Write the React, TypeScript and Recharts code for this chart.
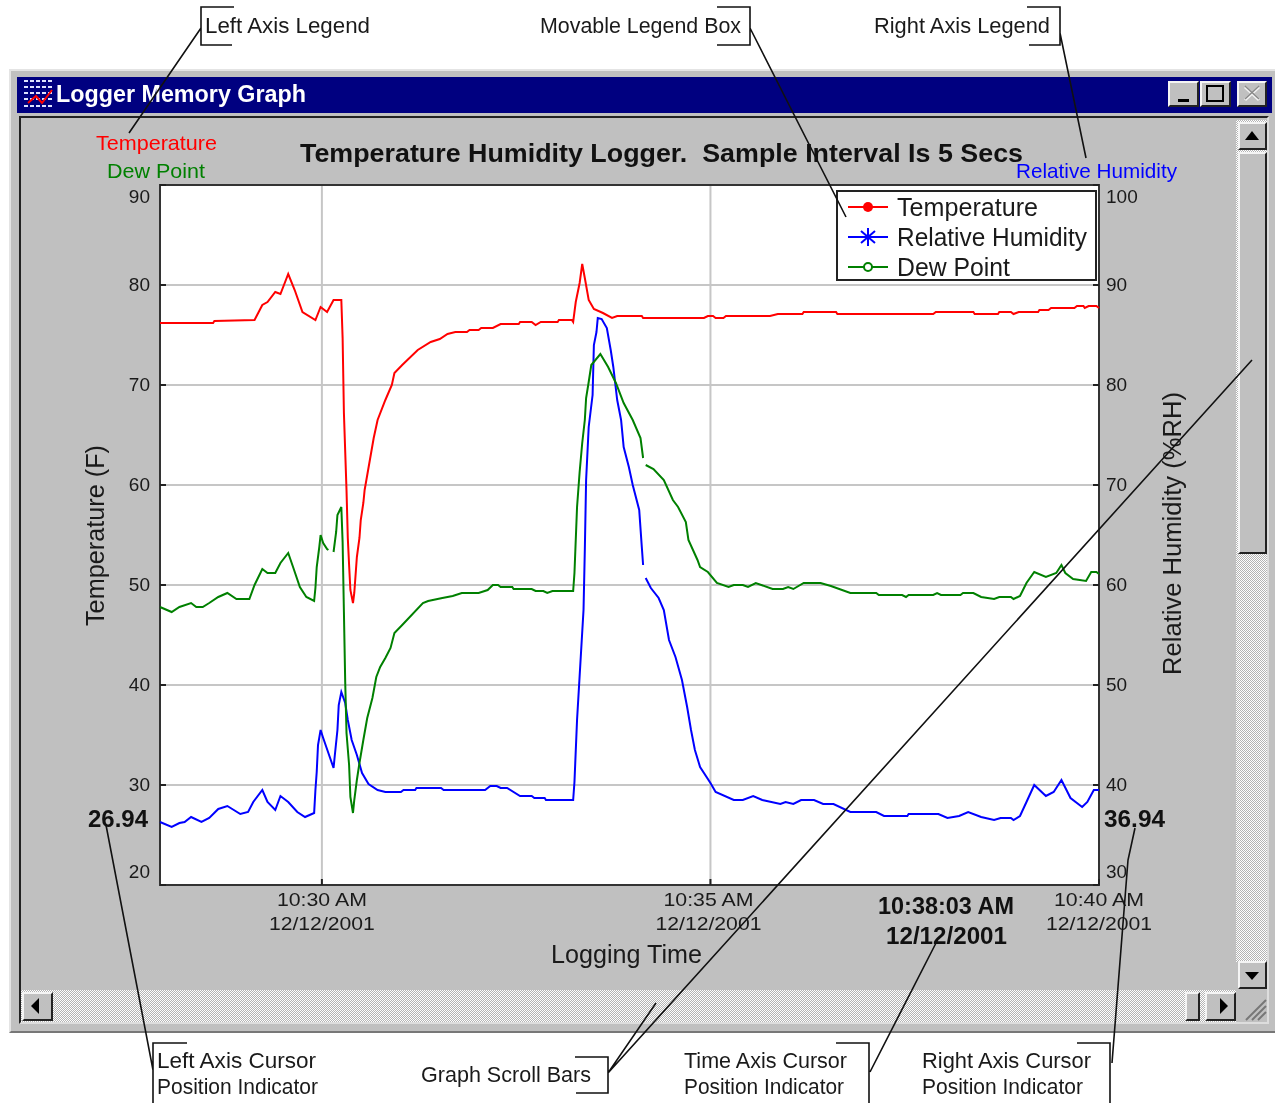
import React from 'react';
import { LineChart, Line, XAxis, YAxis, CartesianGrid, ReferenceArea, Legend } from 'recharts';

// times are seconds after 10:30:00 AM, one list per series because the breaks differ
const tempTimes = [-125, -84, -83, -52, -46, -42, -36, -32, -26, -21, -15, -5, -1, 4, 9, 15, 16, 17, 19, 20, 21, 22, 24, 25, 26, 27, 29, 30, 32, 33, 40, 43, 49, 54, 56, 62, 74, 84, 91, 97, 103, 112, 114, 121, 123, 132, 138, 152, 153, 162, 165, 169, 182, 183, 193, 194, 196, 199, 201, 203, 206, 210, 217, 224, 228, 247, 248, 295, 298, 302, 304, 310, 312, 346, 352, 371, 372, 397, 398, 472, 474, 503, 504, 522, 523, 532, 534, 538, 553, 554, 561, 563, 581, 583, 588, 589, 592, 598, 600];
const tempValues = [76.2, 76.2, 76.4, 76.5, 78.0, 78.3, 79.3, 79.1, 81.1, 79.5, 77.3, 76.5, 77.8, 77.3, 78.5, 78.5, 74.7, 67.2, 59.5, 54.7, 52.0, 49.5, 48.2, 49.2, 51.0, 52.8, 54.7, 56.5, 58.2, 59.5, 64.7, 66.5, 68.5, 70.0, 71.2, 72.0, 73.5, 74.3, 74.6, 75.1, 75.3, 75.3, 75.5, 75.5, 75.7, 75.7, 76.1, 76.1, 76.3, 76.3, 76.0, 76.3, 76.3, 76.5, 76.5, 76.3, 78.3, 80.2, 82.1, 80.7, 78.5, 77.6, 77.2, 76.7, 76.9, 76.9, 76.7, 76.7, 76.9, 76.9, 76.7, 76.7, 76.9, 76.9, 77.1, 77.1, 77.3, 77.3, 77.1, 77.1, 77.3, 77.3, 77.1, 77.1, 77.3, 77.3, 77.1, 77.3, 77.3, 77.5, 77.5, 77.7, 77.7, 77.9, 77.9, 77.7, 77.9, 77.9, 77.7];

const dewTimes = [-125, -116, -110, -101, -97, -92, -87, -80, -73, -66, -56, -52, -46, -42, -36, -32, -26, -22, -17, -12, -6, -5, -4, -2, -1, 1, 4, 5, 7, 9, 11, 12, 15, 16, 17, 18, 19, 21, 22, 24, 25, 27, 29, 32, 35, 39, 42, 45, 49, 53, 56, 62, 78, 82, 93, 101, 108, 121, 128, 132, 136, 138, 147, 148, 162, 165, 171, 174, 178, 194, 195, 196, 197, 199, 201, 203, 204, 206, 208, 215, 221, 227, 233, 240, 246, 248, 249, 250, 256, 264, 271, 275, 281, 283, 290, 292, 298, 305, 314, 318, 325, 329, 335, 348, 356, 360, 364, 372, 385, 393, 408, 428, 430, 448, 451, 453, 472, 475, 478, 493, 495, 503, 509, 519, 523, 532, 534, 539, 544, 550, 559, 567, 571, 574, 580, 590, 594, 598, 600];
const dewValues = [47.8, 47.3, 47.8, 48.2, 47.8, 47.8, 48.2, 48.8, 49.2, 48.6, 48.6, 50.0, 51.6, 51.2, 51.2, 52.2, 53.2, 51.7, 49.8, 48.8, 48.4, 49.7, 51.8, 53.8, 55.0, 54.2, 53.6, 53.5, null, 53.3, 55.3, 57.0, 57.8, 54.3, 47.3, 40.3, 35.2, 32.0, 28.8, 27.2, 28.5, 30.5, 32.2, 34.5, 36.7, 38.7, 40.8, 41.8, 42.7, 43.7, 45.2, 46.0, 48.2, 48.4, 48.7, 48.9, 49.2, 49.2, 49.5, 50.0, 50.0, 49.8, 49.8, 49.6, 49.6, 49.4, 49.4, 49.2, 49.4, 49.4, 51.2, 54.5, 57.8, 61.3, 64.2, 66.5, 68.7, 70.3, 72.0, 73.1, 71.8, 70.2, 68.2, 66.5, 64.7, 62.7, null, 62.0, 61.6, 60.5, 58.5, 57.8, 56.3, 54.5, 52.5, 51.8, 51.3, 50.2, 49.8, 50.0, 50.0, 49.8, 50.2, 49.6, 49.6, 49.8, 49.6, 50.2, 50.2, 49.9, 49.2, 49.2, 49.0, 49.0, 48.8, 49.0, 49.0, 49.2, 49.0, 49.0, 49.2, 49.2, 48.8, 48.6, 48.8, 48.8, 48.6, 48.9, 50.2, 51.3, 50.8, 51.2, 52.0, 51.2, 50.6, 50.4, 51.3, 51.3, 51.1];

const rhTimes = [-125, -116, -110, -106, -101, -93, -87, -80, -73, -63, -57, -53, -46, -42, -36, -32, -26, -19, -13, -6, -5, -4, -3, -1, 1, 5, 9, 10, 12, 13, 15, 18, 20, 23, 27, 31, 36, 43, 49, 61, 63, 72, 73, 92, 94, 126, 130, 135, 138, 143, 153, 162, 164, 172, 173, 194, 195, 197, 202, 203, 204, 206, 209, 210, 212, 213, 216, 220, 223, 225, 228, 231, 233, 237, 240, 245, 247, 248, 249, 250, 254, 260, 264, 268, 273, 278, 282, 285, 288, 292, 300, 304, 318, 325, 333, 340, 354, 358, 364, 370, 380, 387, 395, 408, 428, 434, 452, 453, 476, 483, 492, 499, 509, 519, 524, 532, 534, 539, 544, 550, 559, 565, 571, 578, 587, 591, 596, 600];
const rhValues = [36.3, 35.8, 36.2, 36.3, 36.8, 36.3, 36.7, 37.6, 37.9, 37.1, 37.3, 38.3, 39.5, 38.3, 37.5, 38.9, 38.3, 37.3, 36.8, 37.2, 39.5, 41.3, 44.0, 45.5, 44.7, 43.2, 41.7, 43.0, 45.5, 48.0, 49.3, 48.2, 46.5, 44.5, 43.0, 41.2, 40.1, 39.5, 39.3, 39.3, 39.5, 39.5, 39.7, 39.7, 39.5, 39.5, 39.9, 39.9, 39.7, 39.7, 38.9, 38.9, 38.7, 38.7, 38.5, 38.5, 40.3, 46.5, 57.5, 63.5, 70.5, 75.8, 79.0, 84.0, 85.3, 86.7, 86.6, 85.7, 83.5, 81.8, 78.5, 76.5, 73.8, 71.8, 70.0, 67.5, 63.8, 62.0, null, 60.7, 59.7, 58.7, 57.5, 54.5, 52.8, 50.5, 47.8, 45.5, 43.5, 41.8, 40.2, 39.3, 38.5, 38.5, 38.9, 38.5, 38.1, 38.3, 38.1, 38.5, 38.5, 38.1, 38.1, 37.3, 37.3, 36.9, 36.9, 37.1, 37.1, 36.7, 36.9, 37.3, 36.8, 36.5, 36.7, 36.7, 36.5, 36.9, 38.3, 40.0, 38.9, 39.3, 40.5, 38.7, 37.8, 38.3, 39.5, 39.5];

const xTicks = [0, 300, 600];
const xTickLabels = ['10:30 AM', '10:35 AM', '10:40 AM'];
const leftTicks = [20, 30, 40, 50, 60, 70, 80, 90];
const rightTicks = [30, 40, 50, 60, 70, 80, 90, 100];

const FONT = '"Liberation Sans", Arial, sans-serif';
const RED = '#ff0000';
const BLUE = '#0000ff';
const GREEN = '#008000';
const SILVER = '#c0c0c0';

const toRows = (times: number[], values: (number | null)[]) =>
  times.map((t, i) => ({ t, value: values[i] }));

// text squeezed to the width measured on the reference
const Txt = ({ x, y, w, size = 22, fill = '#1a1a1a', bold = false, rotate = false, children }: any) => (
  <text
    x={x}
    y={y}
    fontFamily={FONT}
    fontSize={size}
    fontWeight={bold ? 'bold' : 'normal'}
    fill={fill}
    textLength={w}
    lengthAdjust="spacingAndGlyphs"
    transform={rotate ? `rotate(-90 ${x} ${y})` : undefined}
  >
    {children}
  </text>
);

const XTick = ({ x, payload }: any) => {
  const label = xTickLabels[xTicks.indexOf(payload.value)];
  // the middle label sits a little left of its gridline on the reference
  const cx = payload.value === 300 ? x - 2 : x;
  return (
    <g>
      <Txt x={cx - 45} y={906} w={90} size={19}>{label}</Txt>
      <Txt x={cx - 53} y={930} w={106} size={19}>12/12/2001</Txt>
    </g>
  );
};

// first and last labels sit inside the plot height, as on the reference
const nudge = (i: number, n: number) => (i === 0 ? -13 : i === n - 1 ? 12 : 0);

const LeftTick = ({ y, index, payload }: any) => (
  <text x={150} y={y + nudge(index, leftTicks.length) + 6} textAnchor="end" fontFamily={FONT} fontSize={19} fill="#1a1a1a">
    {payload.value}
  </text>
);

const RightTick = ({ y, index, payload }: any) => (
  <text x={1106} y={y + nudge(index, rightTicks.length) + 6} fontFamily={FONT} fontSize={19} fill="#1a1a1a">
    {payload.value}
  </text>
);

const legendWidths: Record<string, number> = { Temperature: 141, 'Relative Humidity': 190, 'Dew Point': 113 };

const LegendBox = ({ payload }: any) => (
  <svg width={262} height={92} style={{ display: 'block' }}>
    <rect x={1} y={1} width={259} height={89} fill="#fff" stroke="#222" strokeWidth={2} />
    {(payload || []).map((item: any, i: number) => {
      const cy = 17 + i * 30;
      return (
        <g key={item.value}>
          <line x1={12} x2={52} y1={cy} y2={cy} stroke={item.color} strokeWidth={2} />
          {item.value === 'Temperature' && <circle cx={32} cy={cy} r={5} fill={item.color} />}
          {item.value === 'Relative Humidity' && (
            <path
              d={`M32 ${cy - 9}V${cy + 9}M25 ${cy - 6}L39 ${cy + 6}M25 ${cy + 6}L39 ${cy - 6}`}
              stroke={item.color}
              strokeWidth={2}
            />
          )}
          {item.value === 'Dew Point' && <circle cx={32} cy={cy} r={4} fill="#fff" stroke={item.color} strokeWidth={2} />}
          <Txt x={61} y={cy + 9} w={legendWidths[item.value]} size={25}>{item.value}</Txt>
        </g>
      );
    })}
  </svg>
);

const box = (left: number, top: number, width: number, height: number, extra: React.CSSProperties = {}): React.CSSProperties => ({
  position: 'absolute',
  left,
  top,
  width,
  height,
  boxSizing: 'border-box',
  ...extra,
});

const bevel: React.CSSProperties = {
  background: SILVER,
  borderTop: '2px solid #f4f4f4',
  borderLeft: '2px solid #f4f4f4',
  borderRight: '2px solid #222',
  borderBottom: '2px solid #222',
};

const dither: React.CSSProperties = {
  backgroundImage: 'repeating-conic-gradient(#ffffff 0 25%, #b4b4b4 0 50%)',
  backgroundSize: '2px 2px',
};

const WindowFrame = () => (
  <>
    <div style={box(9, 69, 1270, 964, { background: SILVER, borderTop: '2px solid #e4e4e4', borderLeft: '2px solid #e4e4e4', borderBottom: '2px solid #777' })} />
    <div style={box(17, 77, 1255, 36, { background: '#000080' })} />
    <div style={box(19, 116, 1250, 908, { background: SILVER, borderTop: '2px solid #222', borderLeft: '2px solid #222', borderRight: '2px solid #ddd', borderBottom: '2px solid #ddd' })} />
    <div style={box(1168, 81, 31, 26, bevel)} />
    <div style={box(1200, 81, 31, 26, bevel)} />
    <div style={box(1237, 81, 30, 26, bevel)} />
    <div style={box(1236, 120, 31, 842, dither)} />
    <div style={box(1238, 122, 29, 28, bevel)} />
    <div style={box(1238, 152, 29, 402, bevel)} />
    <div style={box(1238, 961, 29, 28, bevel)} />
    <div style={box(21, 990, 1215, 32, dither)} />
    <div style={box(22, 992, 31, 29, bevel)} />
    <div style={box(1185, 992, 15, 29, bevel)} />
    <div style={box(1205, 992, 31, 29, bevel)} />
  </>
);

const Annotations = () => (
  <svg width={1275} height={1103} style={{ position: 'absolute', left: 0, top: 0 }}>
    {/* title bar */}
    <g>
      <rect x={21} y={79} width={32} height={31} fill="#000080" />
      <path d="M24 81H52M24 87H52M24 93H52M24 99H52M24 106H52" stroke="#dfe3ff" strokeWidth={2} strokeDasharray="4 2" />
      <path d="M28 103L36 96L42 103L52 90" stroke={RED} strokeWidth={2} fill="none" />
    </g>
    <Txt x={56} y={102} w={250} size={23} fill="#fff" bold>Logger Memory Graph</Txt>
    <rect x={1178} y={99} width={11} height={3} fill="#000" />
    <rect x={1207} y={86} width={16} height={15} fill="none" stroke="#000" strokeWidth={2} />
    <path d="M1245 87L1259 100M1259 87L1245 100" stroke="#f2f2f2" strokeWidth={3} />
    <path d="M1245 86L1259 99M1259 86L1245 99" stroke="#888" strokeWidth={1.5} />

    {/* scroll arrows and grip */}
    <path d="M1252 131L1245 140H1259Z" fill="#000" />
    <path d="M1252 980L1245 972H1259Z" fill="#000" />
    <path d="M31 1006L39 998V1014Z" fill="#000" />
    <path d="M1228 1006L1220 998V1014Z" fill="#000" />
    <path d="M1246 1020L1266 1000M1252 1020L1266 1006M1258 1020L1266 1012" stroke="#777" strokeWidth={2} />

    {/* texts inside the window */}
    <Txt x={300} y={162} w={723} size={26} bold fill="#111">{'Temperature Humidity Logger.\u00a0 Sample Interval Is 5 Secs'}</Txt>
    <Txt x={96} y={150} w={121} size={21} fill={RED}>Temperature</Txt>
    <Txt x={107} y={178} w={98} size={21} fill={GREEN}>Dew Point</Txt>
    <Txt x={1016} y={178} w={161} size={21} fill={BLUE}>Relative Humidity</Txt>
    <Txt x={88} y={827} w={60} size={23} bold fill="#111">26.94</Txt>
    <Txt x={1104} y={827} w={61} size={23} bold fill="#111">36.94</Txt>
    <Txt x={878} y={914} w={136} size={23} bold fill="#111">10:38:03 AM</Txt>
    <Txt x={886} y={944} w={121} size={23} bold fill="#111">12/12/2001</Txt>

    {/* callout texts */}
    <Txt x={205} y={33} w={165}>Left Axis Legend</Txt>
    <Txt x={540} y={33} w={201}>Movable Legend Box</Txt>
    <Txt x={874} y={33} w={176}>Right Axis Legend</Txt>
    <Txt x={157} y={1068} w={159}>Left Axis Cursor</Txt>
    <Txt x={157} y={1094} w={161}>Position Indicator</Txt>
    <Txt x={421} y={1082} w={170}>Graph Scroll Bars</Txt>
    <Txt x={684} y={1068} w={163}>Time Axis Cursor</Txt>
    <Txt x={684} y={1094} w={160}>Position Indicator</Txt>
    <Txt x={922} y={1068} w={169}>Right Axis Cursor</Txt>
    <Txt x={922} y={1094} w={161}>Position Indicator</Txt>

    {/* callout brackets and leaders */}
    <g fill="none" stroke="#111" strokeWidth={1.6}>
      <path d="M234 7H201V45H232M201 28L129 133" />
      <path d="M717 7H750V45H717M750 28L846 217" />
      <path d="M1027 7H1060V45H1029M1060 33L1086 158" />
      <path d="M187 1043H153V1103M106 825L153 1070" />
      <path d="M575 1057H608V1093H576M608 1073L656 1003M608 1073L1252 360" />
      <path d="M836 1043H869V1103M870 1072L936 943" />
      <path d="M1077 1043H1110V1103M1112 1063L1128 860L1135 828" />
    </g>
  </svg>
);

export default function App() {
  return (
    <div style={{ position: 'absolute', left: 0, top: 0, width: 1275, height: 1103, overflow: 'hidden', background: '#fff', filter: 'blur(0.35px)' }}>
      <WindowFrame />
      <div style={{ position: 'absolute', left: 0, top: 0 }}>
        <LineChart width={1275} height={1103} margin={{ top: 185, right: 116, bottom: 158, left: 100 }}>
          <CartesianGrid yAxisId="left" stroke="#c6c6c6" strokeWidth={2} fill="#fff" />
          <XAxis
            dataKey="t"
            type="number"
            domain={[-125, 600]}
            ticks={xTicks}
            height={60}
            tick={<XTick />}
            tickSize={-6}
            axisLine={false}
            tickLine={{ stroke: '#222', strokeWidth: 2 }}
            allowDuplicatedCategory={false}
          />
          <YAxis
            yAxisId="left"
            domain={[20, 90]}
            ticks={leftTicks}
            width={60}
            tick={<LeftTick />}
            tickSize={-6}
            axisLine={false}
            tickLine={{ stroke: '#222', strokeWidth: 2 }}
          />
          <YAxis
            yAxisId="right"
            orientation="right"
            domain={[30, 100]}
            ticks={rightTicks}
            width={60}
            tick={<RightTick />}
            tickSize={-6}
            axisLine={false}
            tickLine={{ stroke: '#222', strokeWidth: 2 }}
          />
          <ReferenceArea yAxisId="left" x1={-125} x2={600} y1={20} y2={90} fill="none" stroke="#333" strokeWidth={2} />
          <Line yAxisId="left" data={toRows(tempTimes, tempValues)} dataKey="value" name="Temperature" stroke={RED} strokeWidth={2} dot={false} isAnimationActive={false} />
          <Line yAxisId="right" data={toRows(rhTimes, rhValues)} dataKey="value" name="Relative Humidity" stroke={BLUE} strokeWidth={2} dot={false} isAnimationActive={false} />
          <Line yAxisId="left" data={toRows(dewTimes, dewValues)} dataKey="value" name="Dew Point" stroke={GREEN} strokeWidth={2} dot={false} isAnimationActive={false} />
          <Legend
            layout="vertical"
            align="center"
            verticalAlign="middle"
            itemSorter={null}
            content={<LegendBox />}
            wrapperStyle={{ left: 836, top: 190, width: 262, height: 92 }}
          />
          <Txt x={104} y={626} w={181} size={25} rotate>Temperature (F)</Txt>
          <Txt x={1181} y={675} w={283} size={25} rotate>Relative Humidity (%RH)</Txt>
          <Txt x={551} y={963} w={151} size={25}>Logging Time</Txt>
        </LineChart>
      </div>
      <Annotations />
    </div>
  );
}
